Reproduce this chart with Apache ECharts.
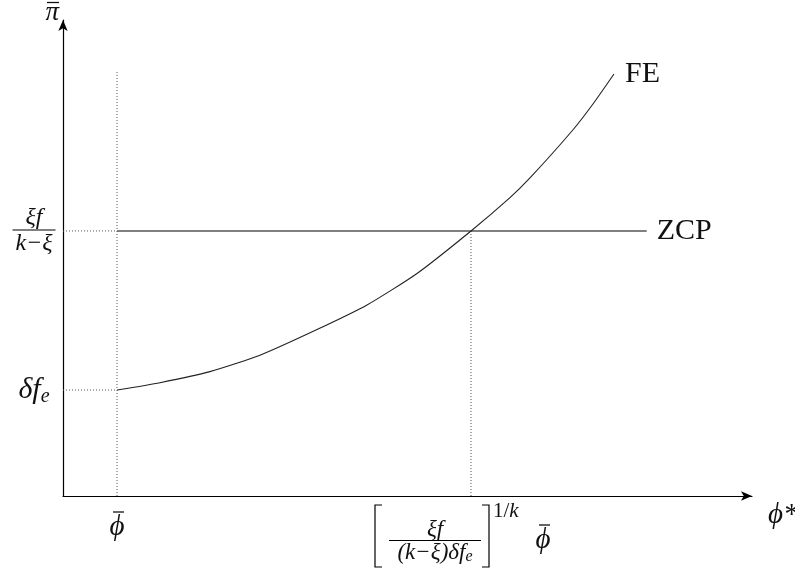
<!DOCTYPE html>
<html>
<head>
<meta charset="utf-8">
<script src="https://cdn.jsdelivr.net/npm/echarts@6/dist/echarts.min.js"></script>
<style>
  html, body { margin: 0; padding: 0; background: #fff; }
  #chart { width: 795px; height: 575px; }
</style>
</head>
<body>
<div id="chart"></div>
<script>
// key levels (phiBar = 1, delta*f_e = 1)
const phiBar = 1;
const phiStar = 7.556;
const deltaFe = 1;
const zcpLevel = 2.5;
const zcpEnd = 10.81;
const phiBarTop = 4.0;
const xMax = 12.76;
const yMax = 4.49;

// FE curve
const feX = [1.0, 1.796, 2.722, 3.648, 4.704, 5.63, 6.556, 7.556, 8.278, 8.648, 9.426, 9.815, 10.204];
const feY = [1.0, 1.069, 1.173, 1.328, 1.57, 1.802, 2.099, 2.5, 2.814, 3.0, 3.443, 3.698, 3.981];

// tick labels
const xTicks = [phiBar];
const yTicks = [deltaFe, zcpLevel];

const serif = '"Liberation Serif", "DejaVu Serif", serif';
const ink = '#111';

// a letter with a bar over it, as two rich lines
const barRich = {
  sp: { width: 3, height: 1, lineHeight: 4 },
  bar: { width: 11, height: 1.3, lineHeight: 4, backgroundColor: ink },
  big: { fontFamily: serif, fontStyle: 'italic', fontSize: 29, lineHeight: 26, color: ink }
};
const piRich = {
  sp: { width: 3, height: 1, lineHeight: 3 },
  bar: { width: 12, height: 1.3, lineHeight: 3, backgroundColor: ink },
  big: { fontFamily: serif, fontStyle: 'italic', fontSize: 27, lineHeight: 18, color: ink }
};
function overbar (ch) {
  return '{sp| }{bar| }\n{big|' + ch + '}';
}

const chart = echarts.init(document.getElementById('chart'));

function guide (pts) {
  return {
    type: 'line',
    data: pts,
    symbol: 'none',
    silent: true,
    lineStyle: { color: '#555', width: 1, type: [1, 2] }
  };
}

const options = {
  animation: false,
  backgroundColor: '#fff',
  grid: { left: 63, right: 43, top: 20, bottom: 79, containLabel: false, outerBoundsMode: 'none' },
  xAxis: {
    type: 'value',
    min: 0,
    max: xMax,
    name: 'ϕ*',
    nameLocation: 'end',
    nameGap: 16,
    nameTextStyle: {
      fontFamily: serif, fontStyle: 'italic', fontSize: 29, color: ink,
      verticalAlign: 'top', padding: [5, 0, 0, 0]
    },
    splitLine: { show: false },
    axisTick: { show: false },
    axisLine: {
      onZero: false,
      symbol: ['none', 'arrow'],
      symbolSize: [7, 11],
      lineStyle: { color: '#000', width: 1.2 }
    },
    axisLabel: {
      customValues: xTicks,
      margin: 14,
      align: 'center',
      formatter: function () { return overbar('ϕ'); },
      rich: barRich
    }
  },
  yAxis: {
    type: 'value',
    min: 0,
    max: yMax,
    name: overbar('π'),
    nameLocation: 'end',
    nameGap: -2,
    nameTextStyle: {
      align: 'right',
      padding: [0, 4, 0, 0],
      rich: piRich
    },
    splitLine: { show: false },
    axisTick: { show: false },
    axisLine: {
      onZero: false,
      symbol: ['none', 'arrow'],
      symbolSize: [7, 11],
      lineStyle: { color: '#000', width: 1.2 }
    },
    axisLabel: {
      customValues: yTicks,
      margin: 29,
      align: 'center',
      color: ink,
      formatter: function (v) {
        if (v === zcpLevel) return '{num|ξf}\n{bar| }\n{den|k−ξ}';
        return '{it|δf}{sub|e}';
      },
      rich: {
        num: { fontFamily: serif, fontStyle: 'italic', fontSize: 24, lineHeight: 22, align: 'center' },
        bar: { width: 43, height: 1, lineHeight: 3, backgroundColor: '#000', align: 'center' },
        den: { fontFamily: serif, fontStyle: 'italic', fontSize: 24, lineHeight: 24, align: 'center' },
        it: { fontFamily: serif, fontStyle: 'italic', fontSize: 30, lineHeight: 34 },
        sub: { fontFamily: serif, fontStyle: 'italic', fontSize: 20, lineHeight: 20, verticalAlign: 'bottom' }
      }
    }
  },
  series: [
    guide([[phiBar, 0], [phiBar, phiBarTop]]),
    guide([[0, deltaFe], [phiBar, deltaFe]]),
    guide([[0, zcpLevel], [phiBar, zcpLevel]]),
    guide([[phiStar, 0], [phiStar, zcpLevel]]),
    {
      name: 'ZCP',
      type: 'line',
      data: [[phiBar, zcpLevel], [zcpEnd, zcpLevel]],
      symbol: 'none',
      lineStyle: { color: '#555', width: 1.5 },
      endLabel: {
        show: true, formatter: 'ZCP', distance: 10,
        fontFamily: serif, fontSize: 30, color: ink
      }
    },
    {
      name: 'FE',
      type: 'line',
      data: feX.map((x, i) => [x, feY[i]]),
      smooth: 0.2,
      symbol: 'none',
      lineStyle: { color: '#222', width: 1.1 },
      endLabel: {
        show: true, formatter: 'FE', distance: 11,
        fontFamily: serif, fontSize: 30, color: ink
      }
    }
  ]
};
chart.setOption(options);

// the bracketed label under phiStar, placed from the axis scale
const p = chart.convertToPixel({ gridIndex: 0 }, [phiStar, 0]);
const cx = p[0], ay = p[1];
const fracCx = cx - 36;
const mathText = { fontFamily: serif, fontStyle: 'italic', fontSize: 23, fill: ink };
chart.setOption({
  graphic: [
    {
      type: 'polyline',
      shape: { points: [[cx - 89, ay + 9], [cx - 96, ay + 9], [cx - 96, ay + 71], [cx - 89, ay + 71]] },
      style: { stroke: '#000', lineWidth: 1.2, fill: null }
    },
    {
      type: 'polyline',
      shape: { points: [[cx + 11, ay + 9], [cx + 18, ay + 9], [cx + 18, ay + 71], [cx + 11, ay + 71]] },
      style: { stroke: '#000', lineWidth: 1.2, fill: null }
    },
    {
      type: 'text', x: fracCx, y: ay + 34,
      style: Object.assign({ text: 'ξf', align: 'center', verticalAlign: 'middle' }, mathText)
    },
    {
      type: 'rect',
      shape: { x: fracCx - 46, y: ay + 44, width: 92, height: 1 },
      style: { fill: '#000' }
    },
    {
      type: 'text', x: fracCx, y: ay + 57,
      style: {
        text: '{m|(k−ξ)δf}{s|e}', align: 'center', verticalAlign: 'middle',
        rich: {
          m: { fontFamily: serif, fontStyle: 'italic', fontSize: 23, lineHeight: 24, fill: ink },
          s: { fontFamily: serif, fontStyle: 'italic', fontSize: 16, lineHeight: 14, verticalAlign: 'bottom', fill: ink }
        }
      }
    },
    {
      type: 'text', x: cx + 22, y: ay + 15,
      style: {
        text: '{r|1/}{i|k}', align: 'left', verticalAlign: 'middle',
        rich: {
          r: { fontFamily: serif, fontSize: 21, fill: ink },
          i: { fontFamily: serif, fontStyle: 'italic', fontSize: 21, fill: ink }
        }
      }
    },
    {
      type: 'text', x: cx + 72, y: ay + 42,
      style: {
        text: overbar('ϕ'), align: 'center', verticalAlign: 'middle',
        rich: {
          sp: { width: 3, height: 1, lineHeight: 4 },
          bar: { width: 11, height: 1.3, lineHeight: 4, backgroundColor: ink },
          big: { fontFamily: serif, fontStyle: 'italic', fontSize: 29, lineHeight: 26, fill: ink }
        }
      }
    }
  ]
});
</script>
</body>
</html>
